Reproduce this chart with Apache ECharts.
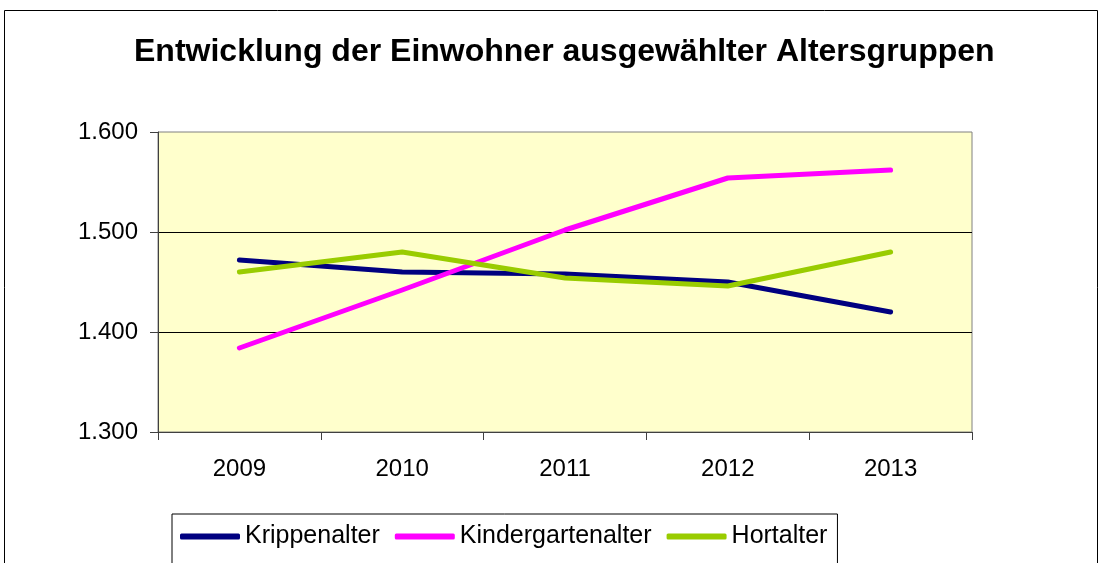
<!DOCTYPE html>
<html lang="de">
<head>
  <meta charset="UTF-8">
  <title>Entwicklung der Einwohner ausgewählter Altersgruppen</title>
  <script src="https://cdn.jsdelivr.net/npm/echarts@6/dist/echarts.min.js"></script>
  <style>
    html, body { margin: 0; padding: 0; background: #fff; }
    #chart { width: 1102px; height: 563px; }
  </style>
</head>
<body>
  <div id="chart"></div>
  <script>
    // Daten
    const years = ['2009', '2010', '2011', '2012', '2013'];
    const krippenalter = [1472, 1460, 1458, 1450, 1420];
    const kindergartenalter = [1384, 1442, 1502, 1554, 1562];
    const hortalter = [1460, 1480, 1454, 1446, 1480];

    const font = "'Liberation Sans', Arial, sans-serif";
    const fmt = v => (v / 1000).toFixed(3);

    const chart = echarts.init(document.getElementById('chart'));
    chart.setOption({
      animation: false,
      backgroundColor: '#fff',
      textStyle: { fontFamily: font },
      graphic: [{
        type: 'rect',
        shape: { x: 4.5, y: 10.5, width: 1093, height: 600 },
        style: { fill: 'none', stroke: '#000', lineWidth: 1 },
        z: -1
      }],
      title: {
        text: 'Entwicklung der Einwohner ausgewählter Altersgruppen',
        left: 129, top: 31,
        textStyle: { fontFamily: font, fontSize: 32, fontWeight: 'bold', color: '#000' }
      },
      legend: {
        left: 172, top: 514,
        padding: [10, 10, 30, 8],
        borderColor: '#000', borderWidth: 1,
        itemWidth: 60, itemHeight: 6, itemGap: 15,
        icon: 'roundRect',
        textStyle: { fontFamily: font, fontSize: 25, color: '#000' },
        data: ['Krippenalter', 'Kindergartenalter', 'Hortalter']
      },
      grid: {
        left: 158, right: 130, top: 132, bottom: 131,
        show: true, backgroundColor: '#ffffcc', borderColor: '#808080', borderWidth: 1
      },
      xAxis: {
        type: 'category', data: years, boundaryGap: true,
        axisLine: { lineStyle: { color: '#404040', width: 1 } },
        axisTick: { show: true, length: 8, lineStyle: { color: '#404040' } },
        axisLabel: { margin: 25, fontSize: 24, color: '#000', fontFamily: font }
      },
      yAxis: {
        type: 'value', min: 1300, max: 1600, interval: 100,
        axisLine: { show: true, lineStyle: { color: '#404040', width: 1 } },
        axisTick: { show: true, length: 8, lineStyle: { color: '#404040' } },
        axisLabel: { margin: 20, fontSize: 24, color: '#000', fontFamily: font, formatter: fmt },
        splitLine: { show: true, showMinLine: false, showMaxLine: false, lineStyle: { color: '#000', width: 1 } }
      },
      series: [
        { name: 'Krippenalter', type: 'line', data: krippenalter, symbol: 'none',
          itemStyle: { color: '#000080' },
          lineStyle: { width: 5, color: '#000080', cap: 'round', join: 'round' } },
        { name: 'Kindergartenalter', type: 'line', data: kindergartenalter, symbol: 'none',
          itemStyle: { color: '#ff00ff' },
          lineStyle: { width: 5, color: '#ff00ff', cap: 'round', join: 'round' } },
        { name: 'Hortalter', type: 'line', data: hortalter, symbol: 'none',
          itemStyle: { color: '#99cc00' },
          lineStyle: { width: 5, color: '#99cc00', cap: 'round', join: 'round' } }
      ]
    });
  </script>
</body>
</html>
